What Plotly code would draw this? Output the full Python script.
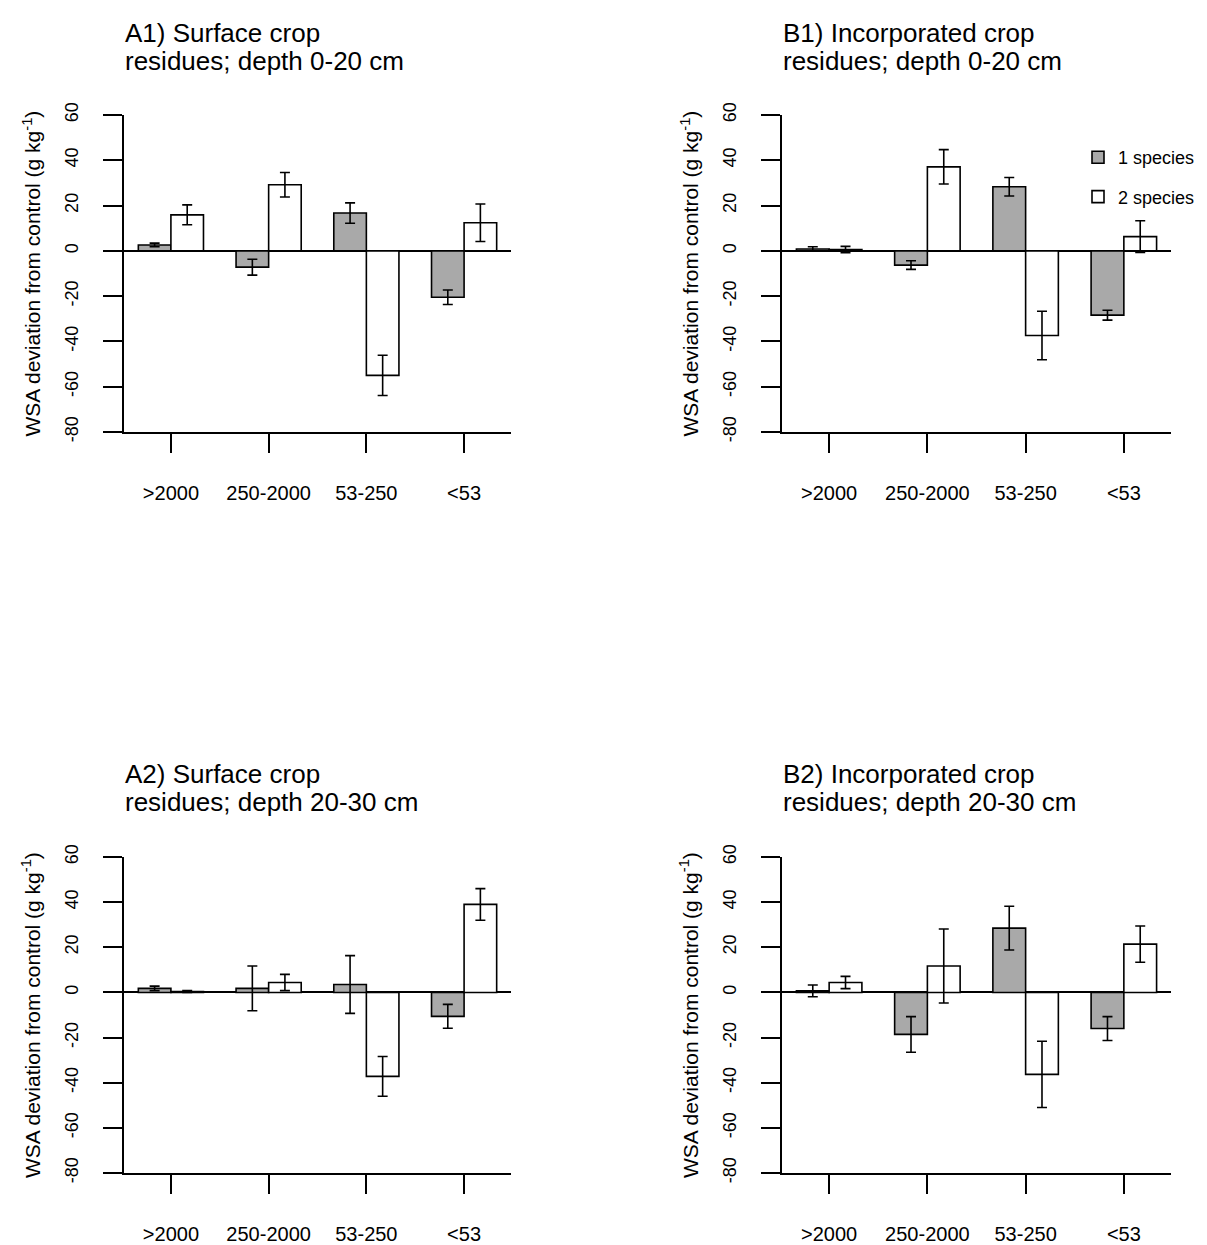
import plotly.graph_objects as go

W, H = 1207, 1245
OFF = 8  # page body margin offset in the browser
FONT = "Liberation Sans, Arial, sans-serif"

categories = [">2000", "250-2000", "53-250", "<53"]
series_names = ["1 species", "2 species"]

# panel values (g kg-1) and standard errors
a1_one = [2.6, -7.2, 16.7, -20.5]
a1_one_err = [0.8, 3.5, 4.5, 3.2]
a1_two = [15.9, 29.2, -55.0, 12.4]
a1_two_err = [4.4, 5.4, 8.9, 8.3]

b1_one = [0.8, -6.3, 28.3, -28.4]
b1_one_err = [1.0, 1.9, 4.1, 2.2]
b1_two = [0.6, 37.1, -37.4, 6.3]
b1_two_err = [1.4, 7.6, 10.7, 7.0]

a2_one = [1.8, 1.8, 3.5, -10.6]
a2_one_err = [1.0, 9.9, 12.8, 5.3]
a2_two = [0.4, 4.4, -37.2, 39.0]
a2_two_err = [0.4, 3.6, 8.8, 7.0]

b2_one = [0.7, -18.6, 28.5, -16.0]
b2_one_err = [2.6, 7.9, 9.7, 5.3]
b2_two = [4.4, 11.7, -36.3, 21.4]
b2_two_err = [2.7, 16.4, 14.7, 8.0]

y_ticks = [-80, -60, -40, -20, 0, 20, 40, 60]

panels = [
    dict(line1="A1) Surface crop", line2="residues; depth 0-20 cm",
         one=a1_one, one_err=a1_one_err, two=a1_two, two_err=a1_two_err,
         l=124, r=511, t=115, b=432, tx=123, ty=33, yt=31),
    dict(line1="B1) Incorporated crop", line2="residues; depth 0-20 cm",
         one=b1_one, one_err=b1_one_err, two=b1_two, two_err=b1_two_err,
         l=782, r=1171, t=115, b=432, tx=781, ty=33, yt=689),
    dict(line1="A2) Surface crop", line2="residues; depth 20-30 cm",
         one=a2_one, one_err=a2_one_err, two=a2_two, two_err=a2_two_err,
         l=124, r=511, t=857, b=1173, tx=123, ty=774, yt=31),
    dict(line1="B2) Incorporated crop", line2="residues; depth 20-30 cm",
         one=b2_one, one_err=b2_one_err, two=b2_two, two_err=b2_two_err,
         l=782, r=1171, t=857, b=1173, tx=781, ty=774, yt=689),
]


def px(x):
    return (x - OFF) / W


def py(y):
    return 1 - (y - OFF) / H


fig = go.Figure()
annotations = []
layout_axes = {}
fills = ["#A9A9A9", "white"]

for i, p in enumerate(panels):
    n = "" if i == 0 else str(i + 1)
    xa, ya = "x" + n, "y" + n
    for k, (vals, errs) in enumerate([(p["one"], p["one_err"]), (p["two"], p["two_err"])]):
        fig.add_trace(go.Bar(
            x=categories, y=vals, name=series_names[k],
            xaxis=xa, yaxis=ya, offsetgroup=str(k),
            legendgroup="g%d" % k, showlegend=(i == 1),
            marker=dict(color=fills[k], line=dict(color="black", width=1.6)),
            error_y=dict(type="data", array=errs, visible=True,
                         color="black", thickness=1.6, width=5),
        ))
    layout_axes["xaxis" + n] = dict(
        domain=[px(p["l"]), px(p["r"])], anchor=ya, automargin=False,
        type="category", categoryorder="array", categoryarray=categories,
        range=[-0.48, 3.48], showline=True, linecolor="black", linewidth=1.6,
        ticks="outside", ticklen=19, tickwidth=1.6, tickcolor="black",
        ticklabelstandoff=23, showgrid=False, zeroline=False,
        tickfont=dict(family=FONT, size=20, color="black"), fixedrange=True,
    )
    layout_axes["yaxis" + n] = dict(
        domain=[py(p["b"]), py(p["t"])], anchor=xa, automargin=False,
        range=[-80, 60], tickvals=y_ticks, ticktext=[str(v) for v in y_ticks],
        showline=True, linecolor="black", linewidth=1.6,
        ticks="outside", ticklen=19, tickwidth=1.6, tickcolor="black",
        tickangle=-90, ticklabelstandoff=18, showgrid=False,
        zeroline=True, zerolinecolor="black", zerolinewidth=1.6,
        tickfont=dict(family=FONT, size=18, color="black"), fixedrange=True,
    )
    annotations.append(dict(text=p["line1"], x=px(p["tx"]), y=py(p["ty"]),
                            xref="paper", yref="paper", xanchor="left", yanchor="middle",
                            showarrow=False, font=dict(family=FONT, size=26, color="black")))
    annotations.append(dict(text=p["line2"], x=px(p["tx"]), y=py(p["ty"] + 28),
                            xref="paper", yref="paper", xanchor="left", yanchor="middle",
                            showarrow=False, font=dict(family=FONT, size=26, color="black")))
    annotations.append(dict(text="WSA deviation from control (g kg<sup>-1</sup>)",
                            x=px(p["yt"]), y=py((p["t"] + p["b"]) / 2),
                            xref="paper", yref="paper", xanchor="center", yanchor="middle",
                            textangle=-90, showarrow=False,
                            font=dict(family=FONT, size=21, color="black")))

fig.update_layout(
    template="none",
    width=W, height=H, margin=dict(l=0, r=0, t=0, b=0, pad=0, autoexpand=False),
    paper_bgcolor="white", plot_bgcolor="white",
    font=dict(family=FONT, color="black"),
    barmode="group", bargap=1 / 3, bargroupgap=0,
    annotations=annotations,
    showlegend=True,
    legend=dict(x=px(1078), y=py(139), xanchor="left", yanchor="top",
                bgcolor="rgba(0,0,0,0)", borderwidth=0,
                font=dict(family=FONT, size=18, color="black"),
                traceorder="grouped", tracegroupgap=13, itemwidth=30),
    **layout_axes,
)

fig.write_html("out.html")
